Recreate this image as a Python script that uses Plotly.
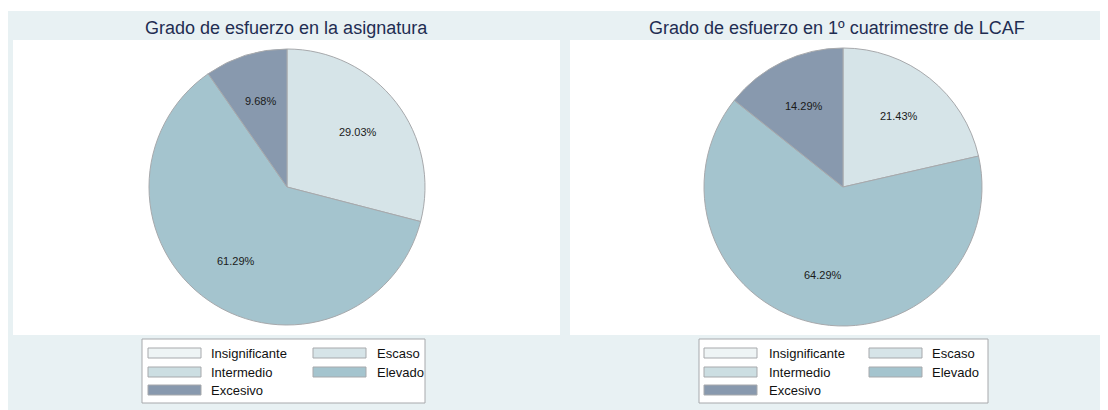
import math
import plotly.graph_objects as go

# page has an 8px body margin; figure occupies 1100x402 from (8,8)
OFF = 8
W, H = 1100, 402

categories = ["Insignificante", "Escaso", "Intermedio", "Elevado", "Excesivo"]
colors = ["#EEF4F5", "#D6E4E8", "#CCDEE2", "#A4C4CE", "#8899AE"]
pct_asignatura = [0, 29.03, 0, 61.29, 9.68]
pct_lcaf = [0, 21.43, 0, 64.29, 14.29]
titles = ["Grado de esfuerzo en la asignatura", "Grado de esfuerzo en 1º cuatrimestre de LCAF"]

FONT = "Liberation Sans, Arial, sans-serif"
PANEL = "#E8F1F3"
EDGE = "#A7A9AC"


def px(x):
    return (x - OFF) / W


def py(y):
    return 1 - (y - OFF) / H


fig = go.Figure()

panels = [
    dict(vals=pct_asignatura, cx=287, cy=187, r=138, white=(13, 560),
         leg=(142, 425), sw1=148, tx1=209, sw2=313, tx2=375, swlen=53),
    dict(vals=pct_lcaf, cx=843, cy=187, r=139, white=(570, 1103),
         leg=(699, 988), sw1=704, tx1=767, sw2=869, tx2=930, swlen=53),
]

shapes = []
annotations = []

shapes.append(dict(type="rect", xref="paper", yref="paper", x0=px(8), x1=px(1108),
                   y0=py(410), y1=py(11), fillcolor=PANEL, line=dict(width=0), layer="below"))

for i, p in enumerate(panels):
    vals = p["vals"]
    labs = [c for c, v in zip(categories, vals) if v > 0]
    cols = [c for c, v in zip(colors, vals) if v > 0]
    vv = [v for v in vals if v > 0]
    fig.add_trace(go.Pie(
        labels=labs, values=vv, sort=False, direction="clockwise", rotation=0,
        marker=dict(colors=cols, line=dict(color=EDGE, width=1)),
        textinfo="none",
        domain=dict(x=[px(p["cx"] - p["r"]), px(p["cx"] + p["r"])],
                    y=[py(p["cy"] + p["r"]), py(p["cy"] - p["r"])]),
        showlegend=False, hoverinfo="skip",
    ))
    # slice labels at 0.65 r along each slice's mid-angle
    total = sum(vv)
    cum = 0.0
    for v in vv:
        mid = (cum + v / 2) / total * 2 * math.pi
        cum += v
        d = 0.65 * p["r"]
        lx = p["cx"] + d * math.sin(mid)
        ly = p["cy"] - d * math.cos(mid)
        annotations.append(dict(text=f"{v:.2f}%", x=px(lx), y=py(ly), xref="paper", yref="paper",
                                showarrow=False, xanchor="center", yanchor="middle",
                                font=dict(family=FONT, size=11, color="#1a1a1a")))
    x0, x1 = p["white"]
    shapes.append(dict(type="rect", xref="paper", yref="paper", x0=px(x0), x1=px(x1),
                       y0=py(335), y1=py(40), fillcolor="white", line=dict(width=0), layer="below"))
    annotations.append(dict(text=titles[i], x=px((x0 + x1) / 2), y=py(28), xref="paper", yref="paper",
                            showarrow=False, xanchor="center", yanchor="middle",
                            font=dict(family=FONT, size=18, color="#1F2D52")))
    lx0, lx1 = p["leg"]
    shapes.append(dict(type="rect", xref="paper", yref="paper", x0=px(lx0), x1=px(lx1),
                       y0=py(403), y1=py(339), fillcolor="white", line=dict(color=EDGE, width=1)))
    rows = [353, 372, 390]
    for k, (cat, col) in enumerate(zip(categories, colors)):
        r, c = divmod(k, 2)
        yc = rows[r]
        sx = p["sw1"] if c == 0 else p["sw2"]
        tx = p["tx1"] if c == 0 else p["tx2"]
        shapes.append(dict(type="rect", xref="paper", yref="paper", x0=px(sx), x1=px(sx + p["swlen"]),
                           y0=py(yc + 5), y1=py(yc - 5), fillcolor=col, line=dict(color=EDGE, width=1)))
        annotations.append(dict(text=cat, x=px(tx), y=py(yc), xref="paper", yref="paper",
                                showarrow=False, xanchor="left", yanchor="middle",
                                font=dict(family=FONT, size=13, color="#111111")))

fig.update_layout(
    width=W, height=H, margin=dict(l=0, r=0, t=0, b=0),
    paper_bgcolor="white", plot_bgcolor="white",
    shapes=shapes, annotations=annotations, showlegend=False,
)

fig.write_html("out.html")
